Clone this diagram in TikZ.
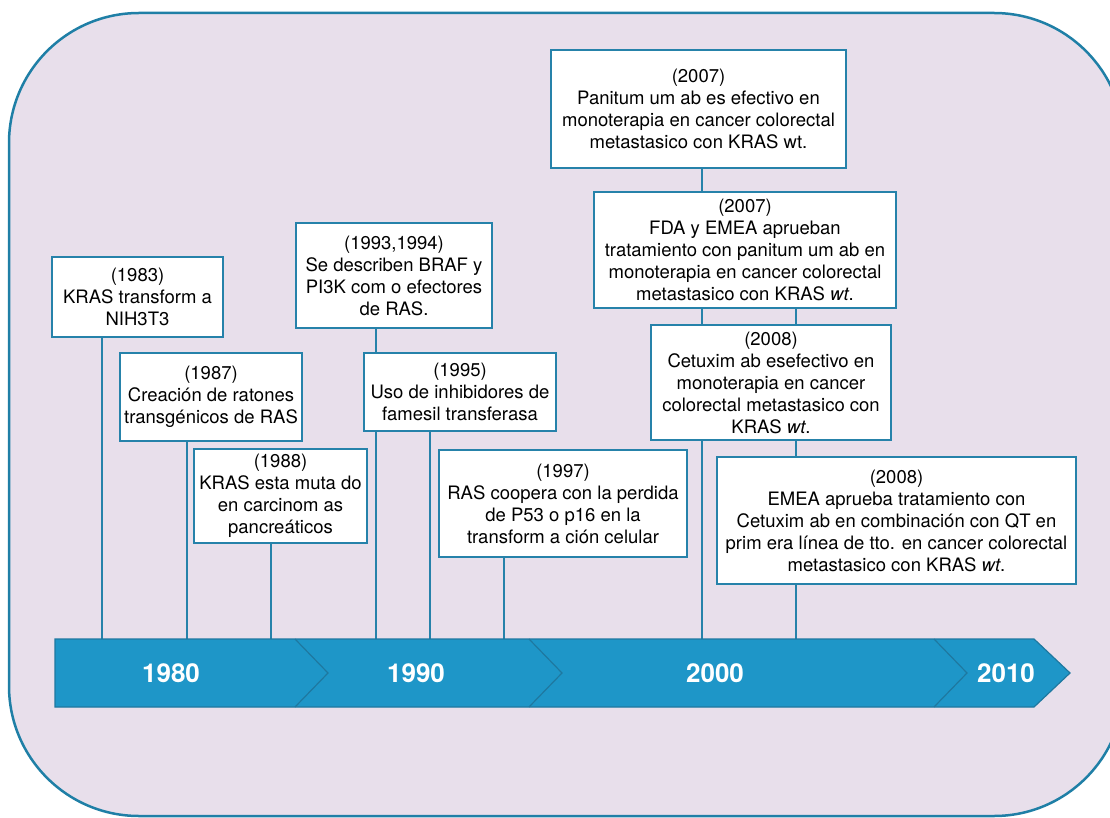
\documentclass[tikz,border=0pt]{standalone}
\usepackage{fontspec}
\setmainfont{TeX Gyre Heros}
\definecolor{panelfill}{RGB}{232,223,235}
\definecolor{panelline}{RGB}{31,127,166}
\definecolor{boxline}{RGB}{38,130,170}
\definecolor{bandfill}{RGB}{30,150,200}
\definecolor{bandline}{RGB}{30,120,160}
\pgfdeclarelayer{back}
\pgfdeclarelayer{stems}
\pgfsetlayers{back,stems,main}
\tikzset{%
    evt/.style={draw=boxline,line width=2.6pt,fill=white,align=center,inner sep=0pt,font=\fontsize{18.5}{22}\selectfont},
    yr/.style={text=white,font=\fontsize{26}{30}\selectfont\bfseries}
}

\begin{document}
\begin{tikzpicture}[x=1pt,y=-1pt,
            stem/.style={draw=boxline,line width=2pt}
            ]
            \useasboundingbox (0,0) rectangle (1110,818);
            \begin{pgfonlayer}{back}
                \draw[draw=panelline,fill=panelfill,line width=2.5pt,rounded corners=130pt] (9,13) rectangle (1124,816);
            \end{pgfonlayer}

            % time band
            \draw[fill=bandfill,draw=bandline,line width=1.2pt] (55,639) -- (1034,639) -- (1070,673) -- (1034,707) -- (55,707) -- cycle;
            \foreach \x in {295,529,934}
                \draw[bandline,line width=1.2pt] (\x,639) -- ++(33,34) -- ++(-33,34);
            \node[yr] (d80) at (171,673) {1980};
            \node[yr] (d90) at (416,673) {1990};
            \node[yr] (d00) at (715,673) {2000};
            \node[yr] (d10) at (1006,673) {2010};

            \coordinate (t83) at (102,639);
            \coordinate (t87) at (187,639);
            \coordinate (t88) at (271,639);
            \coordinate (t93) at (376,639);
            \coordinate (t95) at (430,639);
            \coordinate (t97) at (504,639);
            \coordinate (t07) at (702,639);
            \coordinate (t08) at (796,639);

            % events
            \node[evt,minimum width=171pt,minimum height=80pt] (y83) at (137.5,297) {(1983)\\KRAS transform a\\NIH3T3};
            \node[evt,minimum width=182pt,minimum height=88pt] (y87) at (211,397) {(1987)\\Creación de ratones\\transgénicos de RAS};
            \node[evt,minimum width=173pt,minimum height=94pt] (y88) at (280.5,496) {(1988)\\KRAS esta muta do\\en carcinom as\\pancreáticos};
            \node[evt,minimum width=196pt,minimum height=105pt] (y93) at (394,275.5) {(1993,1994)\\Se describen BRAF y\\PI3K com o efectores\\de RAS.};
            \node[evt,minimum width=192pt,minimum height=78pt] (y95) at (460,392) {(1995)\\Uso de inhibidores de\\famesil transferasa};
            \node[evt,minimum width=248pt,minimum height=107pt] (y97) at (563,503.5) {(1997)\\RAS coopera con la perdida\\de P53 o p16 en la\\transform a ción celular};
            \node[evt,minimum width=295pt,minimum height=118pt] (y07a) at (698.5,109) {(2007)\\Panitum um ab es efectivo en\\monoterapia en cancer colorectal\\metastasico con KRAS wt.};
            \node[evt,minimum width=302pt,minimum height=116pt] (y07b) at (745,250) {(2007)\\FDA y EMEA aprueban\\tratamiento con panitum um ab en\\monoterapia en cancer colorectal\\metastasico con KRAS \textit{wt}.};
            \node[evt,minimum width=240pt,minimum height=115pt] (y08a) at (771,382.5) {(2008)\\Cetuxim ab esefectivo en\\monoterapia en cancer\\colorectal metastasico con\\KRAS \textit{wt}.};
            \node[evt,minimum width=359pt,minimum height=127pt] (y08b) at (896.5,520.5) {(2008)\\EMEA aprueba tratamiento con\\Cetuxim ab en combinación con QT en\\prim era línea de tto. en cancer colorectal\\metastasico con KRAS \textit{wt}.};

            \begin{pgfonlayer}{stems}
                \draw[stem] (y83.south -| t83) -- (t83);
                \draw[stem] (y87.south -| t87) -- (t87);
                \draw[stem] (y88.south -| t88) -- (t88);
                \draw[stem] (y93.south -| t93) -- (t93);
                \draw[stem] (y95.south -| t95) -- (t95);
                \draw[stem] (y97.south -| t97) -- (t97);
                \draw[stem] (y07a.south -| t07) -- (t07);
                \draw[stem] (y07b.south -| t08) -- (t08);
            \end{pgfonlayer}
\end{tikzpicture}
\end{document}
